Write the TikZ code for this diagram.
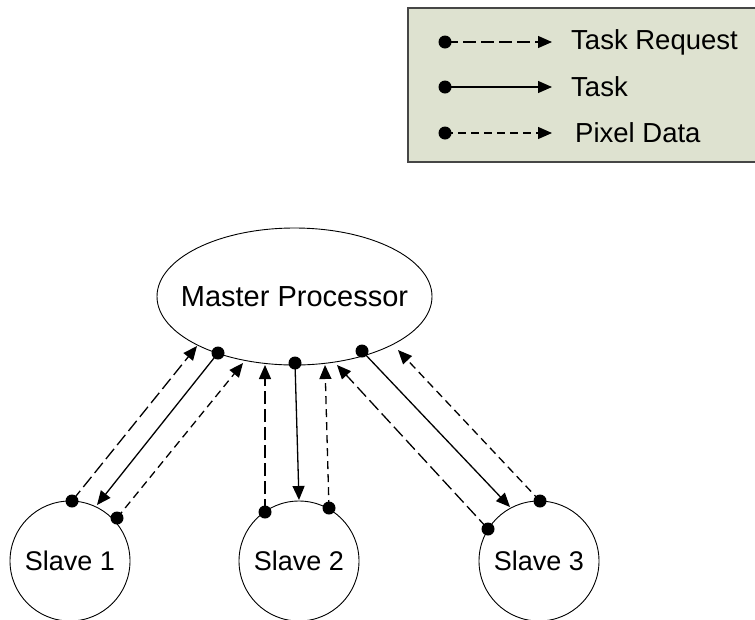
\documentclass[tikz,border=0pt]{standalone}
\usepackage{fontspec}
\setmainfont{Liberation Sans}
\usetikzlibrary{shapes.geometric,arrows.meta}
\definecolor{legendfill}{RGB}{222,226,208}
\definecolor{legendedge}{RGB}{70,70,70}
\tikzset{
  link/.style={line width=1.3pt, -{Triangle[length=14pt,width=12pt]}},
  taskreq/.style={link, dash pattern=on 13pt off 5pt},
  task/.style={link},
  pixdata/.style={link, dash pattern=on 8pt off 5pt},
  port/.style={fill=black},
  proc/.style={draw, line width=0.9pt, inner sep=0pt, font=\fontsize{27}{32}\selectfont},
  legtext/.style={anchor=west, inner sep=0pt, font=\fontsize{27.5}{32}\selectfont}
}
\begin{document}
\begin{tikzpicture}[x=1pt,y=-1pt]
\useasboundingbox (0,0) rectangle (755,619);
\clip (0,0) rectangle (755,619);

% legend
\draw[fill=legendfill, draw=legendedge, line width=1.5pt] (408,8) rectangle (770,162);
\coordinate (l1a) at (445,42);  \coordinate (l1b) at (552,42);
\coordinate (l2a) at (445,87);  \coordinate (l2b) at (552,87);
\coordinate (l3a) at (445,133); \coordinate (l3b) at (552,133);
\draw[taskreq] (l1a) -- (l1b);
\draw[task] (l2a) -- (l2b);
\draw[pixdata] (l3a) -- (l3b);
\foreach \p in {l1a,l2a,l3a} \fill[port] (\p) circle (6.5);
\node[legtext] (lgtr) at (571,42) {Task Request};
\node[legtext] (lgt) at (571,87) {Task};
\node[legtext] (lgpd) at (575,133) {Pixel Data};

% processors (the master's text sits in a centred label so it does not widen the ellipse)
\node[proc, ellipse, minimum width=275pt, minimum height=137pt,
      label={[font=\fontsize{29}{34}\selectfont, inner sep=0pt]center:Master Processor}]
      (master) at (294.5,296.5) {};
\node[proc, circle, minimum size=120pt] (s1) at (70,561) {Slave 1};
\node[proc, circle, minimum size=120pt] (s2) at (299,561) {Slave 2};
\node[proc, circle, minimum size=120pt] (s3) at (539,561) {Slave 3};

% connection points on the master
\coordinate (mA) at (218,353);
\coordinate (mB) at (295,363);
\coordinate (mC) at (362,351);
\coordinate (t1) at (197,346);
\coordinate (p1) at (243,363);
\coordinate (t2) at (265,365);
\coordinate (p2) at (325,365);
\coordinate (t3) at (337,365);
\coordinate (p3) at (398,350);

% connection points on the slaves
\coordinate (s1r) at (72,501);
\coordinate (s1p) at (117,518);
\coordinate (s1t) at (97,505);
\coordinate (s2r) at (265,512);
\coordinate (s2p) at (329,508);
\coordinate (s2t) at (299,500);
\coordinate (s3r) at (488,529);
\coordinate (s3p) at (540,501);
\coordinate (s3t) at (510,507);

% slave 1
\draw[taskreq] (s1r) -- (t1);
\draw[task] (mA) -- (s1t);
\draw[pixdata] (s1p) -- (p1);
% slave 2
\draw[taskreq] (s2r) -- (t2);
\draw[task] (mB) -- (s2t);
\draw[pixdata] (s2p) -- (p2);
% slave 3
\draw[taskreq] (s3r) -- (t3);
\draw[task] (mC) -- (s3t);
\draw[pixdata] (s3p) -- (p3);

\foreach \p in {mA,mB,mC,s1r,s1p,s2r,s2p,s3r,s3p} \fill[port] (\p) circle (6.5);
\end{tikzpicture}
\end{document}
